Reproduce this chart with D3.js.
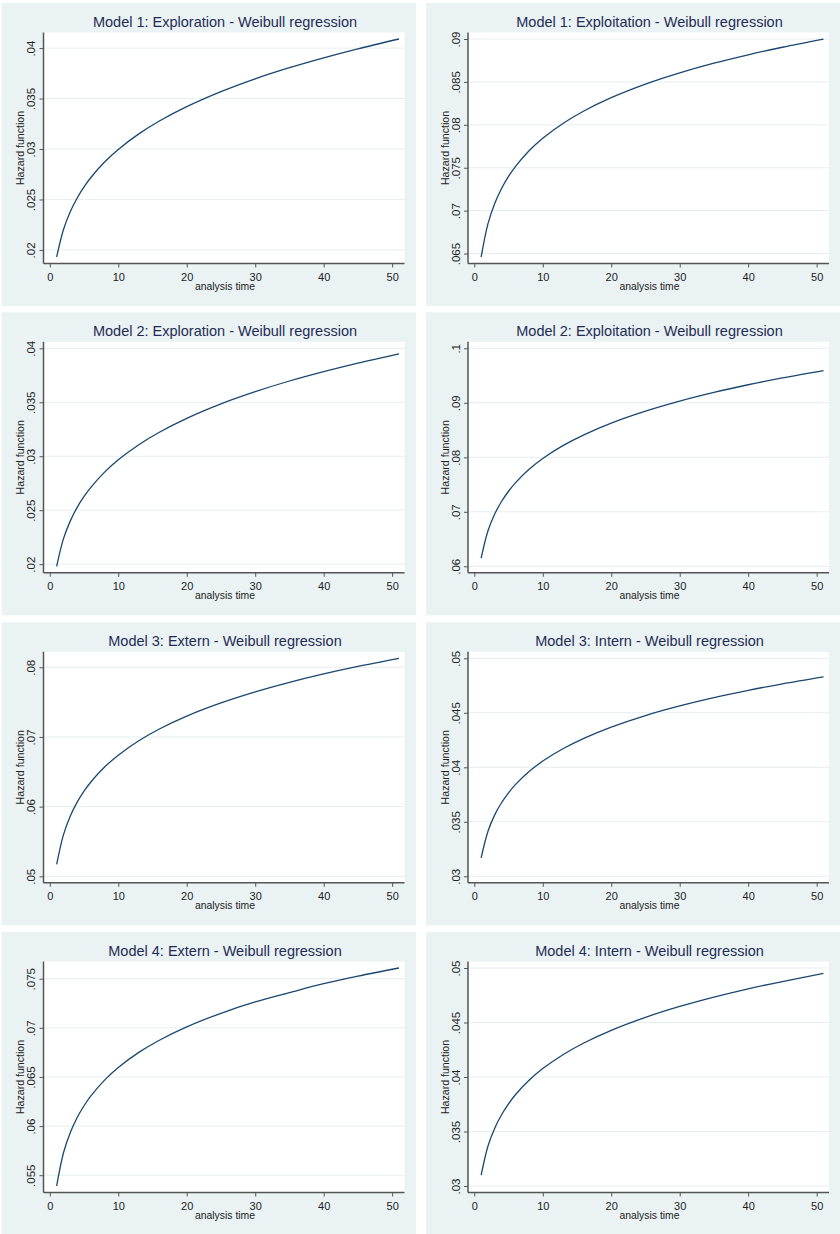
<!DOCTYPE html>
<html>
<head>
<meta charset="utf-8">
<script src="https://cdn.jsdelivr.net/npm/d3@7"></script>
<style>
    body { margin: 0; background: #ffffff; }
    svg { display: block; font-family: "Liberation Sans", Arial, sans-serif; }
</style>
</head>
<body>
<div id="chart"></div>
<script>
// ===========================
// Weibull hazard functions
// 4 x 2 grid of small multiples
// ===========================

const times = [1, 2, 3, 4, 5, 6, 8, 10, 13, 16, 20, 25, 30, 35, 40, 45, 51];
const xTicks = [0, 10, 20, 30, 40, 50];

const titles = [
    'Model 1: Exploration - Weibull regression',
    'Model 1: Exploitation - Weibull regression',
    'Model 2: Exploration - Weibull regression',
    'Model 2: Exploitation - Weibull regression',
    'Model 3: Extern - Weibull regression',
    'Model 3: Intern - Weibull regression',
    'Model 4: Extern - Weibull regression',
    'Model 4: Intern - Weibull regression'
];

const m1Exploration  = [.01930, .02203, .02381, .02515, .02625, .02718, .02871, .02996, .03150, .03278, .03420, .03569, .03696, .03806, .03904, .03993, .04090];
const m1Exploitation = [.06460, .06849, .07087, .07261, .07399, .07513, .07698, .07844, .08019, .08161, .08316, .08474, .08605, .08718, .08816, .08904, .08999];
const m2Exploration  = [.01980, .02236, .02401, .02526, .02627, .02712, .02853, .02967, .03107, .03222, .03351, .03485, .03598, .03697, .03784, .03863, .03949];
const m2Exploitation = [.06150, .06651, .06963, .07193, .07377, .07530, .07779, .07978, .08218, .08413, .08628, .08848, .09032, .09191, .09331, .09456, .09590];
const m3Extern       = [.05170, .05599, .05867, .06064, .06222, .06354, .06568, .06739, .06946, .07114, .07299, .07488, .07647, .07784, .07905, .08013, .08129];
const m3Intern       = [.03170, .03414, .03566, .03677, .03766, .03841, .03961, .04057, .04172, .04266, .04369, .04475, .04563, .04639, .04706, .04766, .04830];
const m4Extern       = [.05390, .05728, .05935, .06087, .06207, .06307, .06468, .06596, .06750, .06874, .07010, .07148, .07263, .07358, .07449, .07526, .07609];
const m4Intern       = [.03100, .03367, .03533, .03656, .03754, .03837, .03970, .04077, .04207, .04312, .04428, .04547, .04647, .04733, .04809, .04876, .04950];

const series = [m1Exploration, m1Exploitation, m2Exploration, m2Exploitation,
                m3Extern, m3Intern, m4Extern, m4Intern];

const yTicks = [
    [.02, .025, .03, .035, .04],
    [.065, .07, .075, .08, .085, .09],
    [.02, .025, .03, .035, .04],
    [.06, .07, .08, .09, .1],
    [.05, .06, .07, .08],
    [.03, .035, .04, .045, .05],
    [.055, .06, .065, .07, .075],
    [.03, .035, .04, .045, .05]
];

const width = 840;
const height = 1234;
const panelW = 414.5;
const panelH = 303;
const colX = [1.5, 426];
const rowY = [3, 312.3, 622.3, 932];

// plot region inside a panel
const plot = { left: 42, right: 403, top: 29.5, bottom: 260.5 };

const colors = {
    panel: '#eaf2f3',
    grid: '#e6eef0',
    axis: '#555555',
    line: '#1a476f',
    title: '#1f2d55',
    text: '#222222'
};

const fmt = v => String(v).replace(/^0/, '');

const svg = d3.select('#chart')
    .append('svg')
    .attr('width', width)
    .attr('height', height);

series.forEach((values, i) => drawPanel(i, values));

function drawPanel(i, values) {
    const g = svg.append('g')
        .attr('transform', `translate(${colX[i % 2]},${rowY[Math.floor(i / 2)]})`);

    const ticks = yTicks[i];
    const x = d3.scaleLinear()
        .domain([0, 51])
        .range([48.3, 397.5]);
    const y = d3.scaleLinear()
        .domain([Math.min(d3.min(values), ticks[0]), Math.max(d3.max(values), ticks[ticks.length - 1])])
        .range([254, 36]);

    g.append('rect')
        .attr('width', panelW)
        .attr('height', panelH)
        .attr('fill', colors.panel);

    g.append('rect')
        .attr('x', plot.left)
        .attr('y', plot.top)
        .attr('width', plot.right - plot.left)
        .attr('height', plot.bottom - plot.top)
        .attr('fill', '#ffffff');

    // gridlines
    g.selectAll('.grid')
        .data(ticks)
        .join('line')
        .attr('x1', plot.left)
        .attr('x2', plot.right)
        .attr('y1', d => y(d))
        .attr('y2', d => y(d))
        .attr('stroke', colors.grid)
        .attr('stroke-width', 1);

    // hazard curve
    const line = d3.line()
        .x((d, k) => x(times[k]))
        .y(d => y(d))
        .curve(d3.curveCatmullRom.alpha(0.5));

    g.append('path')
        .datum(values)
        .attr('d', line)
        .attr('fill', 'none')
        .attr('stroke', colors.line)
        .attr('stroke-width', 1.3);

    // y axis
    const yAxis = g.append('g')
        .attr('transform', `translate(${plot.left},0)`)
        .call(d3.axisLeft(y).tickValues(ticks).tickFormat(fmt).tickSize(4).tickSizeOuter(0));
    yAxis.select('.domain').remove();
    yAxis.selectAll('line').attr('stroke', colors.axis);
    yAxis.selectAll('text')
        .attr('x', 0)
        .attr('y', -8.5)
        .attr('dy', 0)
        .attr('transform', 'rotate(-90)')
        .style('text-anchor', 'middle')
        .attr('fill', colors.text)
        .attr('font-size', '11.5px')
        .attr('font-family', '"Liberation Sans", Arial, sans-serif');

    // x axis
    const xAxis = g.append('g')
        .attr('transform', `translate(0,${plot.bottom})`)
        .call(d3.axisBottom(x).tickValues(xTicks).tickSize(4).tickSizeOuter(0));
    xAxis.select('.domain').remove();
    xAxis.selectAll('line').attr('stroke', colors.axis);
    xAxis.selectAll('text')
        .attr('y', 17.5)
        .attr('dy', 0)
        .attr('fill', colors.text)
        .attr('font-size', '11px')
        .attr('font-family', '"Liberation Sans", Arial, sans-serif');

    // axis lines over the plot region edge
    g.append('line')
        .attr('x1', plot.left).attr('x2', plot.left)
        .attr('y1', plot.top).attr('y2', plot.bottom)
        .attr('stroke', colors.axis)
        .attr('stroke-width', 1.5);
    g.append('line')
        .attr('x1', plot.left).attr('x2', plot.right)
        .attr('y1', plot.bottom).attr('y2', plot.bottom)
        .attr('stroke', colors.axis)
        .attr('stroke-width', 1.5);

    g.append('text')
        .attr('x', (plot.left + plot.right) / 2 + 1)
        .attr('y', 23.7)
        .attr('text-anchor', 'middle')
        .attr('font-size', '14.5px')
        .attr('fill', colors.title)
        .text(titles[i]);

    g.append('text')
        .attr('x', (plot.left + plot.right) / 2 + 1)
        .attr('y', 287)
        .attr('text-anchor', 'middle')
        .attr('font-size', '10.4px')
        .attr('fill', colors.text)
        .text('analysis time');

    g.append('text')
        .attr('transform', `translate(22.5,${(plot.top + plot.bottom) / 2}) rotate(-90)`)
        .attr('text-anchor', 'middle')
        .attr('font-size', '10.6px')
        .attr('fill', colors.text)
        .text('Hazard function');
}
</script>
</body>
</html>
